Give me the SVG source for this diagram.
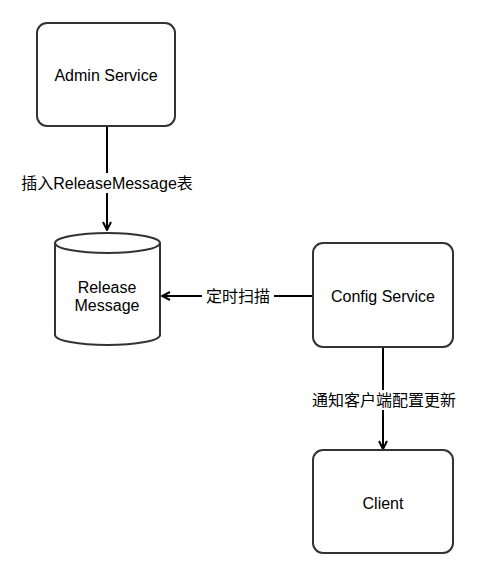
<svg xmlns="http://www.w3.org/2000/svg" width="501" height="566" viewBox="0 0 501 566">
<style>
.box{fill:#fff;stroke:#333;stroke-width:2}
.t{font-family:"Liberation Sans","Noto Sans CJK SC",sans-serif;font-size:16px;fill:#000;text-anchor:middle;dominant-baseline:central}
.e{fill:none;stroke:#000;stroke-width:2}
.lbl{fill:#fff}
</style>
<defs>
<marker id="ah" viewBox="0 0 10 10" refX="9" refY="5" markerWidth="10" markerHeight="10" markerUnits="userSpaceOnUse" orient="auto">
<path d="M1,1 L9,5 L1,9" fill="none" stroke="#000" stroke-width="2"/>
</marker>
</defs>
<rect width="501" height="566" fill="#fff"/>
<g id="edges">
<line class="e" x1="107" y1="126" x2="107" y2="230" marker-end="url(#ah)"/>
<rect class="lbl" x="14" y="173" width="186" height="20"/>
<text class="t" x="107" y="183">插入ReleaseMessage表</text>
<line class="e" x1="313" y1="296" x2="162" y2="296" marker-end="url(#ah)"/>
<rect class="lbl" x="202" y="286" width="72" height="20"/>
<text class="t" x="238" y="296">定时扫描</text>
<line class="e" x1="383" y1="347" x2="383" y2="449" marker-end="url(#ah)"/>
<rect class="lbl" x="306" y="390" width="156" height="20"/>
<text class="t" x="384" y="400">通知客户端配置更新</text>
</g>
<g id="admin">
<rect class="box" x="37" y="23" width="138" height="103" rx="10"/>
<text class="t" x="106" y="75">Admin Service</text>
</g>
<g id="release">
<path class="box" d="M55,243 A52.5,10 0 0 1 160,243 L160,335 A52.5,10 0 0 1 55,335 Z"/>
<path d="M55,243 A52.5,10 0 0 0 160,243" fill="none" stroke="#333" stroke-width="2"/>
<text class="t" x="107" y="287">Release</text>
<text class="t" x="107" y="305">Message</text>
</g>
<g id="config">
<rect class="box" x="313" y="243" width="140" height="104" rx="10"/>
<text class="t" x="383" y="296">Config Service</text>
</g>
<g id="client">
<rect class="box" x="313" y="450" width="140" height="103" rx="10"/>
<text class="t" x="383" y="503">Client</text>
</g>
</svg>
